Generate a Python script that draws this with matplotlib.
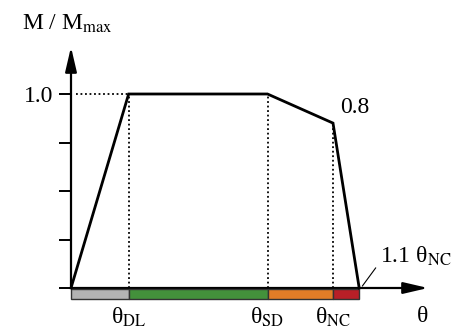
import matplotlib
matplotlib.use("Agg")
import matplotlib.pyplot as plt

plt.rcParams['font.family'] = ['Liberation Serif', 'DejaVu Serif']
plt.rcParams['mathtext.fontset'] = 'stix'

# data
theta_labels = ['θ$_{\\rm DL}$', 'θ$_{\\rm SD}$', 'θ$_{\\rm NC}$']
theta_pts = [0.0, 0.22, 0.75, 1.0, 1.1]          # 0, DL, SD, NC, 1.1 NC
moment = [0.0, 1.0, 1.0, 0.85, 0.0]
ytick_vals = [0.0, 0.25, 0.5, 0.75, 1.0]
seg_colors = ['#b3b3b3', '#43913b', '#e27d27', '#b81f27']

W, H = 456, 330
fig = plt.figure(figsize=(W / 100, H / 100), dpi=100)
x0, y0 = 71, 288
xtip, ytip = 428, 47
sx, sy = 262.0, 194.0
ax = fig.add_axes([x0 / W, (H - y0) / H, (xtip - x0) / W, (y0 - ytip) / H])
xmax = (xtip - x0) / sx
ymax = (y0 - ytip) / sy
ax.set_xlim(0, xmax)
ax.set_ylim(0, ymax)
for s in ax.spines.values():
    s.set_visible(False)

# axes arrows
arrow_kw = dict(arrowstyle='-|>,head_length=1.5,head_width=0.35', color='black', lw=1.6,
                shrinkA=0, shrinkB=0)
ax.annotate('', xy=(xmax, 0), xytext=(0, 0), arrowprops=arrow_kw, annotation_clip=False)
ax.annotate('', xy=(0, ymax), xytext=(0, 0), arrowprops=arrow_kw, annotation_clip=False)

# y ticks
ax.set_yticks(ytick_vals)
ax.set_yticklabels(['' if v != 1.0 else '1.0' for v in ytick_vals], fontsize=17)
ax.tick_params(axis='y', direction='out', length=8.5, width=1.4, pad=4)

# x tick labels
ax.set_xticks(theta_pts[1:4])
ax.set_xticklabels(theta_labels, fontsize=17)
ax.tick_params(axis='x', length=0, pad=13)

# colored bar segments
bot = -0.057
hgt = 0.052
lefts = theta_pts[:4]
widths = [theta_pts[i + 1] - theta_pts[i] for i in range(4)]
ax.bar(lefts, [hgt] * 4, width=widths, bottom=bot, align='edge', color=seg_colors,
       edgecolor='#333333', linewidth=1.0, clip_on=False, zorder=3)

# dotted guide lines
dot_kw = dict(color='black', lw=1.3, ls=(0, (1, 1.5)), clip_on=False)
ax.plot([0.02, theta_pts[1]], [1.0, 1.0], **dot_kw)
ax.plot([theta_pts[1], theta_pts[1]], [0.0, 1.0], **dot_kw)
ax.plot([theta_pts[2], theta_pts[2]], [0.0, 1.0], **dot_kw)
ax.plot([theta_pts[3], theta_pts[3]], [0.0, moment[3]], **dot_kw)

# backbone curve
ax.plot(theta_pts, moment, color='black', lw=2.0, solid_joinstyle='miter', zorder=4,
        clip_on=False)

# texts
ax.text(1.027, 0.93, '0.8', fontsize=17, ha='left', va='center')
ax.annotate('1.1 θ$_{\\rm NC}$', xy=(theta_pts[4] + 0.012, 0.01), xytext=(1.18, 0.165),
            fontsize=17, ha='left', va='center',
            arrowprops=dict(arrowstyle='-', color='black', lw=0.8, shrinkA=2, shrinkB=0,
                            relpos=(0, 0.25)),
            annotation_clip=False)
ax.text((423 - x0) / sx, -(317 - y0) / sy, 'θ', fontsize=17, ha='center', va='center')
fig.text(22 / W, 1 - 24 / H, 'M / M$_{\\rm max}$', fontsize=17, ha='left', va='center')

fig.savefig('out.png', dpi=100)
